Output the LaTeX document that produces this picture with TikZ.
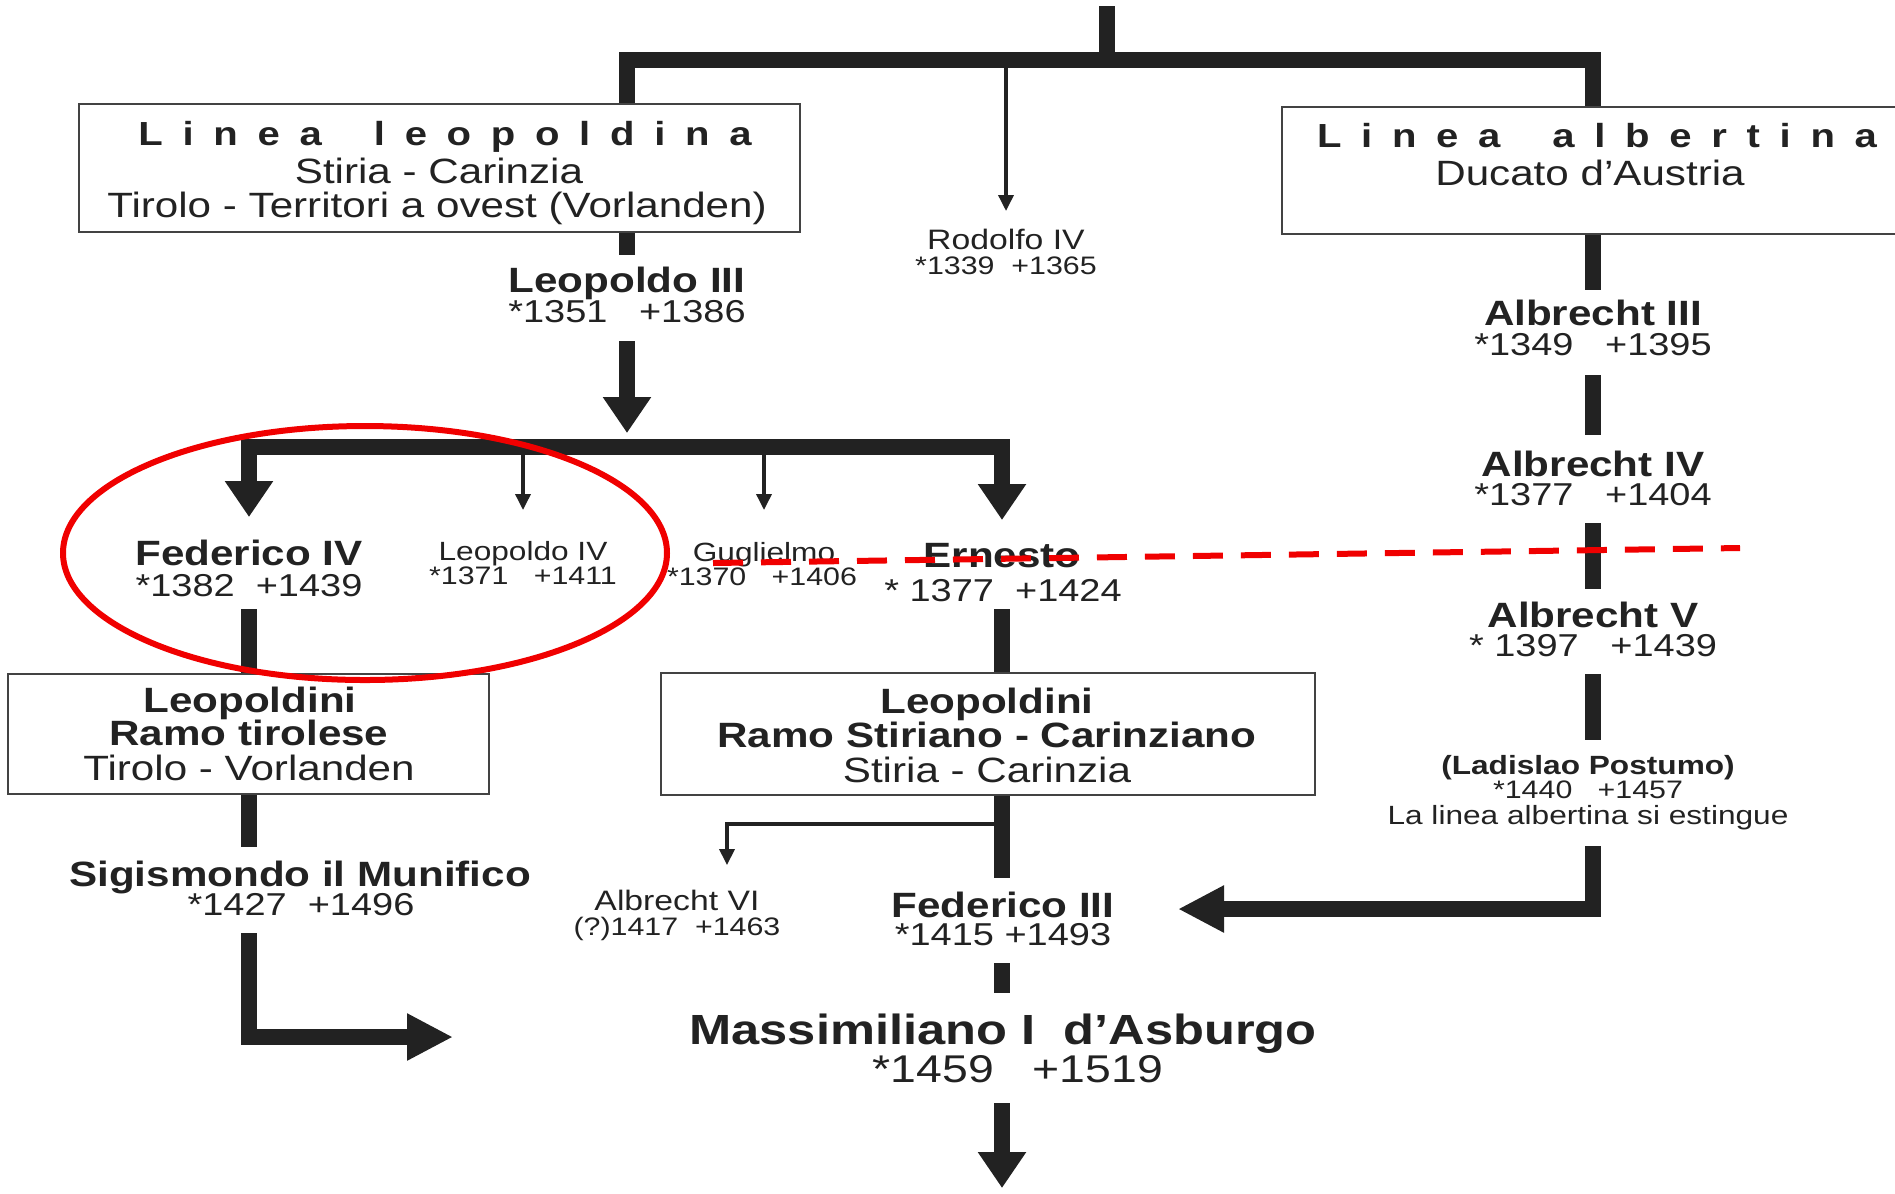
\documentclass[tikz,border=0pt]{standalone}
\usepackage{fontspec}
\setmainfont[FakeStretch=1.2]{Liberation Sans}
\newfontfamily\spacedfont[FakeStretch=1.2,LetterSpace=59]{Liberation Sans}
\usetikzlibrary{arrows.meta,calc}

\definecolor{ink}{HTML}{222222}
\definecolor{marker}{HTML}{F00000}

\tikzset{
  headv/.tip={Triangle[width=4.6mm,length=3.6mm]},
  headh/.tip={Triangle[width=4.4mm,length=4.6mm]},
  headthin/.tip={Triangle[width=1.5mm,length=1.6mm]},
  txt/.style={inner sep=0pt, anchor=base, text=ink},
  bigname/.style={txt, font=\fontsize{10}{12}\selectfont\bfseries},
  hugename/.style={txt, font=\fontsize{12}{14}\selectfont\bfseries},
  ladname/.style={txt, font=\fontsize{7.5}{9}\selectfont\bfseries},
  midname/.style={txt, font=\fontsize{8}{10}\selectfont},
  smallname/.style={txt, font=\fontsize{7.5}{9}\selectfont},
  yrs/.style={txt, font=\fontsize{9}{11}\selectfont},
  hugeyrs/.style={txt, font=\fontsize{11}{13}\selectfont},
  smallyrs/.style={txt, font=\fontsize{7.2}{9}\selectfont},
  boxtxt/.style={txt, font=\fontsize{10}{12}\selectfont},
  spaced/.style={txt, font=\fontsize{9.5}{11}\spacedfont\bfseries},
  boxframe/.style={draw=ink!85, line width=0.6pt, inner sep=0pt},
  thk/.style={draw=ink, line width=1.6mm},
  thn/.style={draw=ink, line width=0.35mm, -headthin},
}

\begin{document}
\begin{tikzpicture}[x=0.1mm, y=-0.1mm]
\useasboundingbox (0,0) rectangle (1895,1193);

% frames
\node[boxframe, minimum width=72.1mm, minimum height=12.8mm] (boxL) at (439.5,168) {};
\node[boxframe, anchor=north west, minimum width=70mm, minimum height=12.7mm] (boxA) at (1281,106) {};
\node[boxframe, minimum width=48.1mm, minimum height=12mm] (boxT) at (248.5,734) {};
\node[boxframe, minimum width=65.4mm, minimum height=12.2mm] (boxS) at (988,734) {};

% box texts
\node[spaced] (tL) at (445,145) {Linea\hspace{5.2mm}leopoldina};
\node[boxtxt] (tL2) at (439,183) {Stiria - Carinzia};
\node[boxtxt] (tL3) at (437,217) {Tirolo - Territori a ovest (Vorlanden)};
\node[spaced] (tA) at (1597,147) {Linea\hspace{5.2mm}albertina};
\node[boxtxt] (tA2) at (1590,185) {Ducato d'Austria};
\node[bigname] (bT1) at (250,712) {Leopoldini};
\node[bigname] (bT2) at (249,745) {Ramo tirolese};
\node[boxtxt] (bT3) at (249,780) {Tirolo - Vorlanden};
\node[bigname] (bS1) at (987,713) {Leopoldini};
\node[bigname] (bS2) at (987,747) {Ramo Stiriano - Carinziano};
\node[boxtxt] (bS3) at (987,782) {Stiria - Carinzia};

% persons
\node[midname] (rIV) at (1006,249) {Rodolfo IV};
\node[smallyrs] (rIVd) at (1006,274) {*1339~~+1365};
\node[bigname] (lIII) at (627,292) {Leopoldo III};
\node[yrs] (lIIId) at (627,322) {*1351~~~+1386};
\node[bigname] (aIII) at (1593,325) {Albrecht III};
\node[yrs] (aIIId) at (1593,355) {*1349~~~+1395};
\node[bigname] (aIV) at (1593,476) {Albrecht IV};
\node[yrs] (aIVd) at (1593,505) {*1377~~~+1404};
\node[bigname] (aV) at (1593,627) {Albrecht V};
\node[yrs] (aVd) at (1593,656) {*~1397~~~+1439};
\node[ladname] (lP) at (1588,774) {(Ladislao Postumo)};
\node[smallyrs] (lPd) at (1588,798) {*1440~~~+1457};
\node[smallname] (lPe) at (1588,824) {La linea albertina si estingue};
\node[bigname] (fIV) at (249,565) {Federico IV};
\node[yrs] (fIVd) at (249,596) {*1382~~+1439};
\node[smallname] (lIV) at (523,560) {Leopoldo IV};
\node[smallyrs] (lIVd) at (523,584) {*1371~~~+1411};
\node[smallname] (gG) at (764,561) {Guglielmo};
\node[smallyrs] (gGd) at (762,585) {*1370~~~+1406};
\node[bigname] (eR) at (1002,567) {Ernesto};
\node[yrs] (eRd) at (1003,601) {*~1377~~+1424};
\node[bigname] (sIG) at (300,886) {Sigismondo il Munifico};
\node[yrs] (sIGd) at (301,915) {*1427~~+1496};
\node[midname] (aVI) at (677,910) {Albrecht VI};
\node[smallyrs] (aVId) at (677,935) {(?)1417~~+1463};
\node[bigname] (fIII) at (1003,917) {Federico III};
\node[yrs] (fIIId) at (1003,945) {*1415~+1493};
\node[hugename] (mA) at (1003,1044) {Massimiliano I~~d'Asburgo};
\node[hugeyrs] (mAd) at (1018,1082) {*1459~~~+1519};

% top
\coordinate (root) at (1107,6);
\coordinate (top) at (1107,60);
\draw[thk] (root) -- (top);
\draw[thk] (boxL.north -| lIII) |- (top) -| (boxA.north -| aIII);
\draw[thn] (top -| rIV) -- ++(0,151);

% linea leopoldina
\coordinate (bar2) at (627,447);
\draw[thk] (boxL.south -| lIII) -- ++(0,22);
\draw[thk, -headv] ($(lIIId.base)+(0,19)$) -- ++(0,92);
\draw[thk, headv-headv] ($(fIV |- bar2)+(0,70)$) |- (bar2 -| eR) -- ++(0,73);
\draw[thn] (bar2 -| lIV) -- ++(0,63);
\draw[thn] (bar2 -| gG) -- ++(0,63);

% ramo tirolese
\draw[thk] (boxT.north -| fIV) -- ++(0,-64);
\draw[thk] (boxT.south -| fIV) -- ++(0,52);
\draw[thk, -headh] ($(sIGd.base -| fIV)+(0,18)$) |- ++(204,104);

% ramo stiriano
\draw[thk] (boxS.north -| eR) -- ++(0,-63);
\draw[thk] (boxS.south -| eR) -- ++(0,82);
\draw[thn] ($(boxS.south -| eR)+(0,28)$) -| ++(-275,41);
\draw[thk] ($(fIIId.base -| eR)+(0,18)$) -- ++(0,30);
\draw[thk, -headv] ($(mAd.base -| eR)+(0,21)$) -- ++(0,85);

% linea albertina
\draw[thk] (boxA.south -| aIII) -- ++(0,55);
\draw[thk] ($(aIIId.base)+(0,20)$) -- ++(0,60);
\draw[thk] ($(aIVd.base)+(0,18)$) -- ++(0,66);
\draw[thk] ($(aVd.base)+(0,18)$) -- ++(0,66);
\draw[thk, -headh] ($(lPe.base -| aIII)+(0,22)$) |- ++(-415,63);

% red marks
\draw[marker, line width=0.6mm] (365,553) ellipse [x radius=30.2mm, y radius=12.7mm];
\draw[marker, line width=0.6mm, dash pattern=on 3mm off 1.8mm] (713,563) -- (1740,548);

\end{tikzpicture}
\end{document}
